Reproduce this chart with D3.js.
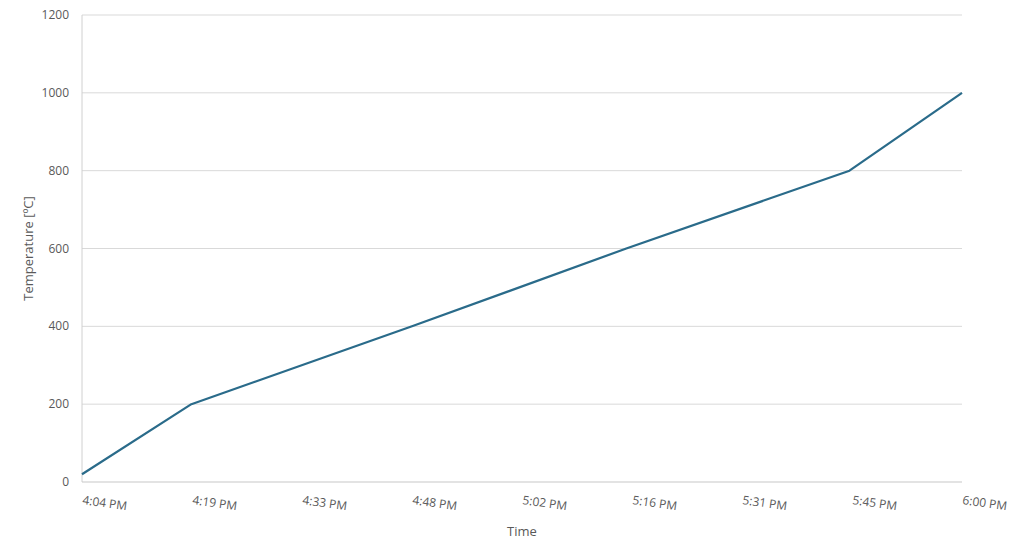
<!DOCTYPE html>
<html><head><meta charset="utf-8">
<script src="https://cdn.jsdelivr.net/npm/d3@7"></script>
<style>
body{margin:0;background:#fff;}
text{font-family:"Open Sans","Noto Sans",sans-serif;}
</style></head>
<body><svg id="c" width="1024" height="558"></svg>
<script>
const times = ["16:04:00","16:18:25","16:47:30","17:15:45","17:45:10","18:00:00"];
const temps = [20, 200, 400, 600, 800, 1000];
const xTickLabels = ["4:04 PM","4:19 PM","4:33 PM","4:48 PM","5:02 PM","5:16 PM","5:31 PM","5:45 PM","6:00 PM"];
const yTicks = [0, 200, 400, 600, 800, 1000, 1200];

const parse = d3.timeParse("%H:%M:%S");
const data = times.map((t,i)=>({t:parse(t), v:temps[i]}));
const svg = d3.select("#c");
const L=82, R=962, T=15, B=482;
const x = d3.scaleTime().domain([data[0].t, data[data.length-1].t]).range([L,R]);
const y = d3.scaleLinear().domain([0,1200]).range([B,T]);

// grid
svg.append("g").selectAll("line").data(yTicks.filter(d=>d>0)).join("line")
  .attr("x1",L).attr("x2",R).attr("y1",d=>y(d)).attr("y2",d=>y(d))
  .attr("stroke","#d9d9d9").attr("stroke-width",1);
// axes lines
svg.append("line").attr("x1",L).attr("x2",L).attr("y1",T).attr("y2",B).attr("stroke","#d0d0d0").attr("stroke-width",1);
svg.append("line").attr("x1",L).attr("x2",R).attr("y1",B).attr("y2",B).attr("stroke","#c8c8c8").attr("stroke-width",1.2);

// y labels
svg.append("g").selectAll("text").data(yTicks).join("text")
  .attr("x",69).attr("y",d=>y(d)+4).attr("text-anchor","end")
  .attr("font-size",12).attr("fill","#595959").text(d=>d);

// x labels
const t0 = x.domain()[0].getTime(), t1 = x.domain()[1].getTime();
const xTickTimes = xTickLabels.map((_,i)=> new Date(t0 + i*(t1-t0)/(xTickLabels.length-1)));
svg.append("g").selectAll("text").data(xTickLabels).join("text")
  .attr("transform",(d,i)=>`translate(${x(xTickTimes[i])},${B+22}) rotate(8)`)
  .attr("text-anchor","start").attr("font-size",12).attr("fill","#595959").text(d=>d);

// titles
svg.append("text").attr("transform",`translate(33,${(T+B)/2}) rotate(-90)`)
  .attr("text-anchor","middle").attr("font-size",13).attr("fill","#595959").text("Temperature [ºC]");
svg.append("text").attr("x",(L+R)/2).attr("y",536).attr("text-anchor","middle")
  .attr("font-size",13).attr("fill","#595959").text("Time");

// line
svg.append("path").datum(data)
  .attr("d", d3.line().x(d=>x(d.t)).y(d=>y(d.v)))
  .attr("fill","none").attr("stroke","#2a6b8a").attr("stroke-width",2.2).attr("stroke-linejoin","round");
</script>
</body></html>
